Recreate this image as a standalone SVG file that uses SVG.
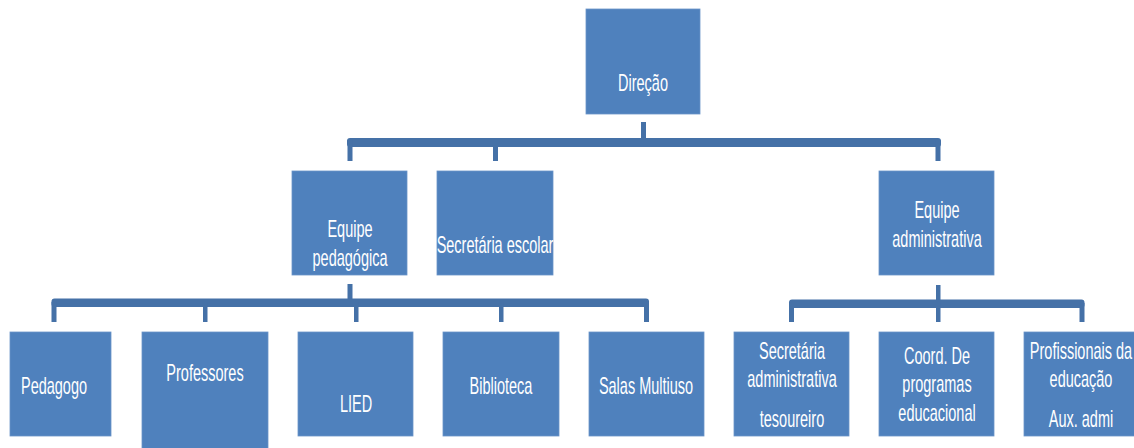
<svg xmlns="http://www.w3.org/2000/svg" width="1134" height="448" viewBox="0 0 1134 448">
  <style>
    .box { fill: #4f81bd; stroke: #6a94c8; stroke-width: 0.8; }
    .ln { fill: #4571a7; }
    .t { font-family: "Liberation Sans", Arial, sans-serif; font-size: 23px; fill: #ffffff; text-anchor: middle; }
  </style>
  <rect width="1134" height="448" fill="#ffffff"/>

  <g id="connectors">
    <!-- Direção to level 2 -->
    <rect class="ln" x="641" y="122" width="5" height="18"/>
    <rect class="ln" x="347" y="138" width="594" height="9" rx="3"/>
    <rect class="ln" x="347.5" y="140" width="5" height="21"/>
    <rect class="ln" x="493" y="140" width="5" height="21"/>
    <rect class="ln" x="935.5" y="140" width="5" height="21"/>
    <!-- Equipe pedagógica to level 3 -->
    <rect class="ln" x="347.5" y="284" width="5" height="18"/>
    <rect class="ln" x="51.5" y="298.5" width="597.5" height="8.5" rx="3"/>
    <rect class="ln" x="51.5" y="302" width="5" height="20"/>
    <rect class="ln" x="203" y="302" width="4.5" height="20"/>
    <rect class="ln" x="354" y="302" width="4.5" height="20"/>
    <rect class="ln" x="499" y="302" width="4.5" height="20"/>
    <rect class="ln" x="644" y="302" width="5" height="20"/>
    <!-- Equipe administrativa to level 3 -->
    <rect class="ln" x="936" y="285" width="4.5" height="17"/>
    <rect class="ln" x="789" y="299.5" width="295.5" height="8.5" rx="3"/>
    <rect class="ln" x="789" y="303" width="5" height="19"/>
    <rect class="ln" x="936" y="303" width="4.5" height="19"/>
    <rect class="ln" x="1079.5" y="303" width="5" height="19"/>
  </g>

  <g id="direcao">
    <rect class="box" x="586" y="9" width="114" height="105"/>
    <text class="t" transform="translate(643 91) scale(0.63 1)">Direção</text>
  </g>

  <g id="equipe-pedagogica">
    <rect class="box" x="292" y="171" width="115" height="104"/>
    <text class="t" transform="translate(350 0) scale(0.63 1)"><tspan x="0" y="237">Equipe</tspan><tspan x="0" y="266">pedagógica</tspan></text>
  </g>

  <g id="secretaria-escolar">
    <rect class="box" x="437" y="171" width="116" height="104"/>
    <text class="t" transform="translate(495 253) scale(0.63 1)">Secretária escolar</text>
  </g>

  <g id="equipe-administrativa">
    <rect class="box" x="879" y="171" width="115" height="104"/>
    <text class="t" transform="translate(937 0) scale(0.63 1)"><tspan x="0" y="218">Equipe</tspan><tspan x="0" y="247">administrativa</tspan></text>
  </g>

  <g id="pedagogo">
    <rect class="box" x="10" y="332" width="101" height="104"/>
    <text class="t" transform="translate(54 394) scale(0.63 1)">Pedagogo</text>
  </g>

  <g id="professores">
    <rect class="box" x="142" y="332" width="126" height="130"/>
    <text class="t" transform="translate(205 381) scale(0.63 1)">Professores</text>
  </g>

  <g id="lied">
    <rect class="box" x="298" y="332" width="115" height="104"/>
    <text class="t" transform="translate(356 412) scale(0.63 1)">LIED</text>
  </g>

  <g id="biblioteca">
    <rect class="box" x="443" y="332" width="116" height="104"/>
    <text class="t" transform="translate(501 394) scale(0.63 1)">Biblioteca</text>
  </g>

  <g id="salas-multiuso">
    <rect class="box" x="589" y="332" width="115" height="104"/>
    <text class="t" transform="translate(646 394) scale(0.63 1)">Salas Multiuso</text>
  </g>

  <g id="secretaria-administrativa">
    <rect class="box" x="734" y="332" width="115" height="104"/>
    <text class="t" transform="translate(792 0) scale(0.63 1)"><tspan x="0" y="359">Secretária</tspan><tspan x="0" y="387">administrativa</tspan><tspan x="0" y="427">tesoureiro</tspan></text>
  </g>

  <g id="coord-programas">
    <rect class="box" x="879" y="332" width="115" height="104"/>
    <text class="t" transform="translate(937 0) scale(0.63 1)"><tspan x="0" y="364">Coord. De</tspan><tspan x="0" y="392">programas</tspan><tspan x="0" y="421">educacional</tspan></text>
  </g>

  <g id="profissionais-educacao">
    <rect class="box" x="1024" y="332" width="115" height="104"/>
    <text class="t" transform="translate(1081 0) scale(0.63 1)"><tspan x="0" y="359">Profissionais da</tspan><tspan x="0" y="387">educação</tspan><tspan x="0" y="427">Aux. admi</tspan></text>
  </g>
</svg>
